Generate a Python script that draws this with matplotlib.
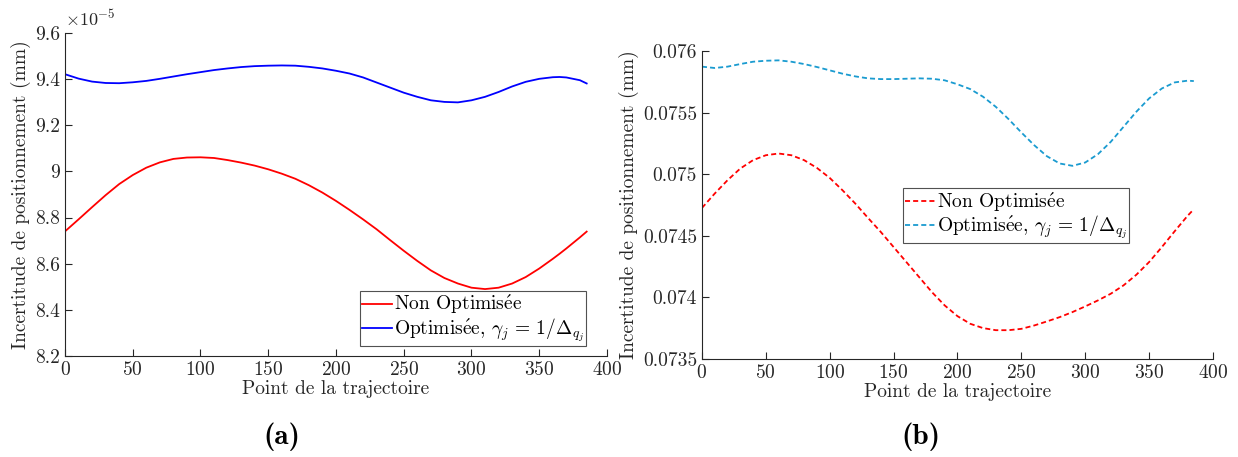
import matplotlib
matplotlib.use("Agg")
import matplotlib.pyplot as plt
import numpy as np
from matplotlib.ticker import FuncFormatter, MultipleLocator

plt.rcParams['font.family'] = ['cmr10', 'DejaVu Serif']
plt.rcParams['mathtext.fontset'] = 'cm'
plt.rcParams['axes.formatter.use_mathtext'] = True

# (a) values in units of 1e-5 mm
xa = [0, 10, 20, 30, 40, 50, 60, 70, 80, 90, 100, 110, 120, 130, 140, 150, 160, 170, 180,
      190, 200, 210, 220, 230, 240, 250, 260, 270, 280, 290, 300, 310, 320, 330, 340, 350,
      360, 365, 370, 380, 385]
red_a = [8.740, 8.792, 8.845, 8.897, 8.945, 8.984, 9.016, 9.039, 9.054, 9.060, 9.061, 9.058,
         9.049, 9.038, 9.025, 9.009, 8.990, 8.968, 8.940, 8.908, 8.872, 8.833, 8.792, 8.749,
         8.702, 8.656, 8.612, 8.571, 8.538, 8.514, 8.496, 8.490, 8.496, 8.514, 8.542, 8.579,
         8.621, 8.643, 8.666, 8.714, 8.739]
blue_a = [9.421, 9.402, 9.389, 9.383, 9.382, 9.386, 9.392, 9.401, 9.411, 9.421, 9.430, 9.439,
          9.446, 9.452, 9.456, 9.458, 9.459, 9.458, 9.453, 9.446, 9.436, 9.424, 9.407, 9.385,
          9.363, 9.341, 9.323, 9.308, 9.301, 9.299, 9.308, 9.323, 9.344, 9.368, 9.388, 9.401,
          9.408, 9.409, 9.407, 9.395, 9.381]

# (b) values in mm
xb = [0, 10, 20, 30, 40, 50, 60, 70, 80, 90, 100, 110, 120, 130, 140, 150, 160, 170, 180,
      190, 200, 210, 220, 230, 240, 250, 260, 270, 280, 290, 300, 310, 320, 330, 340, 350,
      360, 370, 380, 385]
red_b = [0.074726, 0.074843, 0.074951, 0.075046, 0.075114, 0.075154, 0.075168, 0.075154,
         0.075114, 0.075051, 0.074970, 0.074870, 0.074762, 0.074645, 0.074531, 0.074409,
         0.074287, 0.074165, 0.074043, 0.073935, 0.073848, 0.073786, 0.073751, 0.073734,
         0.073734, 0.073745, 0.073772, 0.073805, 0.073840, 0.073881, 0.073927, 0.073976,
         0.074030, 0.074098, 0.074184, 0.074287, 0.074409, 0.074537, 0.074661, 0.074716]
blue_b = [0.075873, 0.075862, 0.075873, 0.075894, 0.075913, 0.075921, 0.075924, 0.075913,
          0.075894, 0.075870, 0.075843, 0.075816, 0.075794, 0.075778, 0.075772, 0.075772,
          0.075775, 0.075778, 0.075775, 0.075762, 0.075730, 0.075691, 0.075629, 0.075547,
          0.075447, 0.075339, 0.075236, 0.075146, 0.075087, 0.075068, 0.075095, 0.075163,
          0.075263, 0.075385, 0.075507, 0.075615, 0.075696, 0.075745, 0.075759, 0.075756]

labels = [r'Non Optimis$\mathrm{\acute{e}}$e',
          r'Optimis$\mathrm{\acute{e}}$e, $\gamma_j\,=\,1/\Delta_{q_j}$']
fs = 14
dark = '#262626'
dash = (0, (2.8, 1.7))

fig = plt.figure(figsize=(12.38, 4.57), dpi=100)


def style(ax):
    for s in ['top', 'right']:
        ax.spines[s].set_visible(False)
    for s in ['left', 'bottom']:
        ax.spines[s].set_color(dark)
        ax.spines[s].set_linewidth(0.8)
    ax.tick_params(direction='in', length=5, width=0.8, colors=dark, labelsize=fs)
    ax.set_xlim(0, 400)
    ax.xaxis.set_major_locator(MultipleLocator(50))
    ax.set_xlabel('Point de la trajectoire', fontsize=fs, color=dark, labelpad=1)
    ax.set_ylabel('Incertitude de positionnement (mm)', fontsize=fs, color=dark, labelpad=3)


def legend(ax, **kw):
    leg = ax.legend(fontsize=14, frameon=True, fancybox=False, edgecolor=dark,
                    handlelength=1.55, handletextpad=0.1, borderpad=0.1, labelspacing=0.0,
                    borderaxespad=0, **kw)
    leg.get_frame().set_linewidth(0.8)


# (a)
ax1 = fig.add_axes([0.0525, 0.221, 0.4378, 0.707])
ax1.plot(xa, np.array(red_a) * 1e-5, color='#ff0000', lw=1.3, label=labels[0])
ax1.plot(xa, np.array(blue_a) * 1e-5, color='#0000ff', lw=1.3, label=labels[1])
ax1.set_ylim(8.2e-5, 9.6e-5)
ax1.set_yticks(np.arange(8.2, 9.61, 0.2) * 1e-5)
ax1.yaxis.set_major_formatter(FuncFormatter(lambda v, p: f"{round(v * 1e5, 1):g}"))
style(ax1)
ax1.text(0.0, 1.012, r'$\times10^{-5}$', transform=ax1.transAxes, fontsize=13, color=dark,
         ha='left', va='bottom')
legend(ax1, loc='lower right', bbox_to_anchor=(0.961, 0.031))

# (b)
ax2 = fig.add_axes([0.567, 0.2144, 0.4128, 0.674])
ax2.plot(xb, red_b, color='#ff0000', lw=1.3, ls=dash, label=labels[0])
ax2.plot(xb, blue_b, color='#1a9bd0', lw=1.3, ls=dash, label=labels[1])
ax2.set_ylim(0.0735, 0.076)
ax2.set_yticks([0.0735, 0.074, 0.0745, 0.075, 0.0755, 0.076])
ax2.yaxis.set_major_formatter(FuncFormatter(lambda v, p: f"{round(v, 5):g}"))
style(ax2)
legend(ax2, loc='upper left', bbox_to_anchor=(0.393, 0.554))

for xc, cap in [(0.228, '(a)'), (0.744, '(b)')]:
    fig.text(xc, 0.045, cap, fontsize=21, ha='center', va='center',
             family=['cmb10', 'DejaVu Serif'])

fig.savefig('out.png', dpi=100)
